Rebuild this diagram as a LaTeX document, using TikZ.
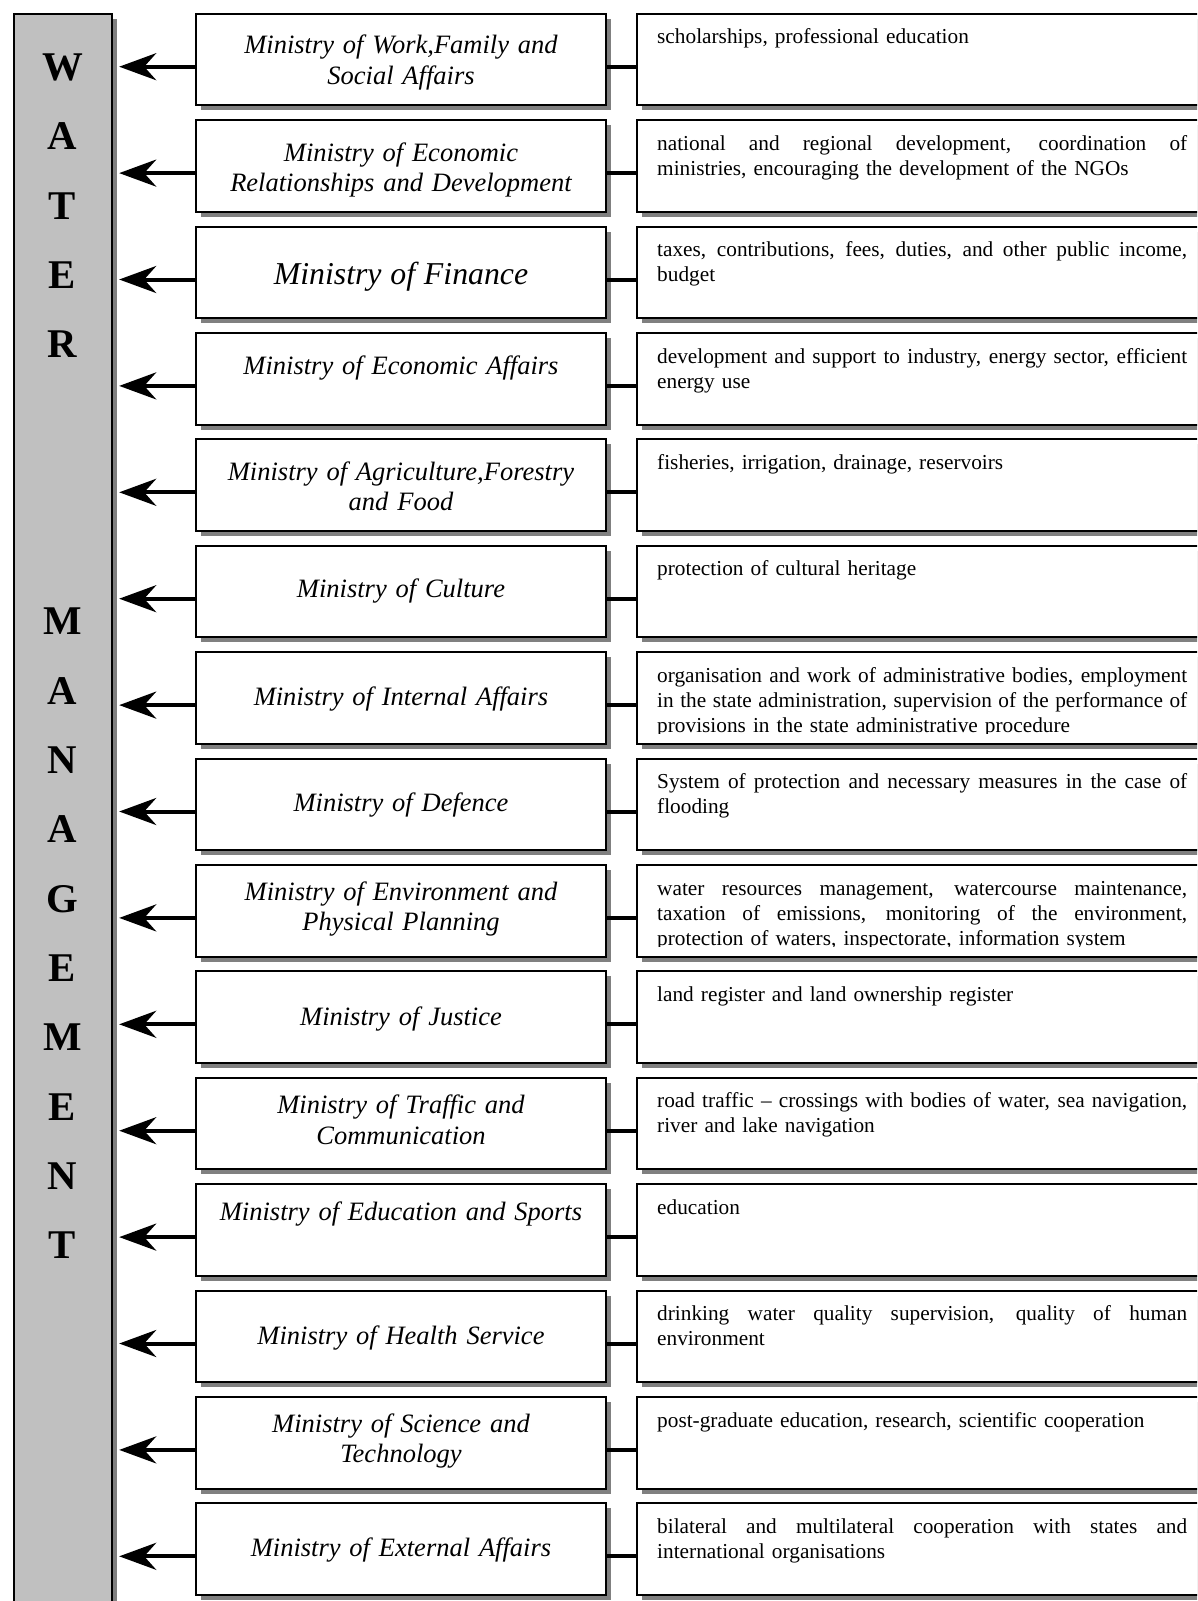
\documentclass[tikz,border=0pt]{standalone}
\usepackage{fontspec}
\setmainfont{Liberation Serif}
\usetikzlibrary{arrows.meta,shadows}
\definecolor{barfill}{HTML}{C0C0C0}
\definecolor{shade}{HTML}{808080}
% a full-width line whose word spaces stretch to both margins
\newcommand\justline[1]{\makebox[\linewidth][s]{\spaceskip=\fontdimen2\font plus 1fill\relax #1}\\}
\newcommand\finfont{\fontsize{31.8}{36}\selectfont}
\tikzset{
  boxshadow/.style={drop shadow={shadow xshift=5pt, shadow yshift=-5pt, fill=shade, opacity=1}},
  frame/.style={rectangle, draw=black, line width=2pt, inner sep=0pt, outer sep=0pt, boxshadow},
  ministry/.style={frame, fill=white, anchor=north west, minimum width=410pt, minimum height=91.5pt},
  topic/.style={frame, fill=white, anchor=north west, minimum width=600pt, minimum height=91.5pt},
  mtext/.style={anchor=base, text width=410pt, align=center, inner sep=0pt,
    font=\fontsize{26.5}{30.5}\selectfont\itshape},
  ttext/.style={anchor=base west, text width=530pt, align=left, inner sep=0pt,
    font=\fontsize{21.3}{25}\selectfont},
  letter/.style={anchor=base, inner sep=0pt, font=\fontsize{40.8}{41}\selectfont\bfseries},
  arrowline/.style={line width=4pt, -{Stealth[length=37pt,width=27pt,inset=12pt]}, shorten >=7pt},
  link/.style={line width=4pt},
}
\begin{document}
\begin{tikzpicture}[x=1pt,y=-1pt]
\path[use as bounding box] (0,0) rectangle (1197,1601);
\clip (0,0) rectangle (1197,1601);

% grey side bar with the vertical title
\node[frame, fill=barfill, anchor=north west, minimum width=98.4pt, minimum height=1700pt]
  (bar) at (13.8,13.8) {};
\foreach \ch/\k in {W/0,A/1,T/2,E/3,R/4,M/8,A/9,N/10,A/11,G/12,E/13,M/14,E/15,N/16,T/17}{
  \node[letter] (l\k) at (62.5,{80.5+69.3*\k}) {\ch};
}

% one row per ministry: name box, arrow to the bar, link to the responsibilities box
\foreach \mtxt/\moff/\ttxt [count=\i from 0] in {
  {Ministry of Work,Family and\\Social Affairs}/40/{scholarships, professional education},
  {Ministry of Economic\\Relationships and Development}/41/{\justline{national and regional development, coordination of}ministries, encouraging the development of the NGOs},
  {\finfont Ministry of Finance}/57.5/{\justline{taxes, contributions, fees, duties, and other public income,}budget},
  {Ministry of Economic Affairs}/41/{\justline{development and support to industry, energy sector, efficient}energy use},
  {Ministry of Agriculture,Forestry\\and Food}/41/{fisheries, irrigation, drainage, reservoirs},
  {Ministry of Culture}/52/{protection of cultural heritage},
  {Ministry of Internal Affairs}/53/{\justline{organisation and work of administrative bodies, employment}\justline{in the state administration, supervision of the performance of}provisions in the state administrative procedure},
  {Ministry of Defence}/53/{\justline{System of protection and necessary measures in the case of}flooding},
  {Ministry of Environment and\\Physical Planning}/35/{\justline{water resources management, watercourse maintenance,}\justline{taxation of emissions, monitoring of the environment,}protection of waters, inspectorate, information system},
  {Ministry of Justice}/54/{land register and land ownership register},
  {Ministry of Traffic and\\Communication}/36/{\justline{road traffic – crossings with bodies of water, sea navigation,}river and lake navigation},
  {Ministry of Education and Sports}/36/{education},
  {Ministry of Health Service}/54/{\justline{drinking water quality supervision, quality of human}environment},
  {Ministry of Science and\\Technology}/35/{post-graduate education, research, scientific cooperation},
  {Ministry of External Affairs}/53/{\justline{bilateral and multilateral cooperation with states and}international organisations}%
}{
  \pgfmathsetmacro\rowtop{13.8+106.4*\i}
  \node[ministry] (m\i) at (196,\rowtop) {};
  \node[topic] (t\i) at (637,\rowtop) {};
  \node[mtext] (n\i) at (401,{\rowtop+\moff}) {\mtxt};
  \begin{scope}
    \clip (t\i.north west) rectangle ([yshift=10pt]t\i.south east);
    \node[ttext] (d\i) at ([xshift=20pt,yshift=-30pt]t\i.north west) {\ttxt};
  \end{scope}
  \coordinate (y\i) at ([yshift=-7.15pt]m\i.west);
  \draw[arrowline] (y\i) -- (y\i -| bar.east);
  \draw[link] ([yshift=-7.15pt]m\i.east) -- ([yshift=-7.15pt]t\i.west);
}
\end{tikzpicture}
\end{document}
